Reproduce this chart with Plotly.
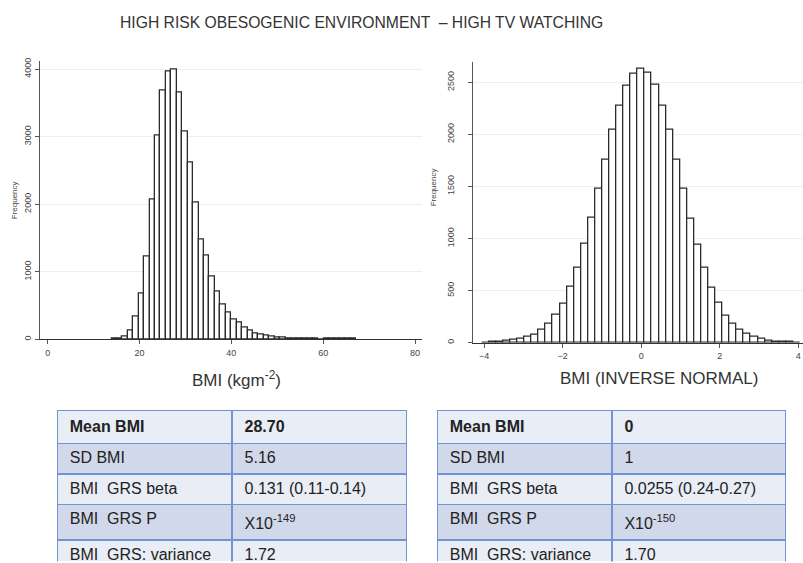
import plotly.graph_objects as go

W, H = 803, 563

# ---------------- data ----------------
bmi_bin_start = 13.9
bmi_bin_width = 1.185
bmi_counts = [5, 15, 45, 136, 332, 684, 1222, 2063, 3016, 3682, 3961, 4000, 3657,
              3070, 2611, 2029, 1481, 1236, 935, 706, 518, 400, 290, 244, 175, 132,
              92, 70, 55, 42, 30, 22, 18, 15, 13, 11, 10, 8, 4, 8, 9, 8, 7, 6, 6]

inv_bin_start = -4.05
inv_bin_width = 0.18
inv_counts = [3, 5, 8, 14, 23, 38, 54, 80, 121, 181, 264, 378, 533, 720, 946, 1196,
              1475, 1758, 2043, 2275, 2469, 2586, 2627, 2590, 2472, 2278, 2040, 1760,
              1478, 1193, 944, 722, 530, 380, 262, 180, 120, 82, 55, 37, 22, 13, 8, 5, 3]

left_xticks = [0, 20, 40, 60, 80]
left_yticks = [0, 1000, 2000, 3000, 4000]
right_xticks = [-4, -2, 0, 2, 4]
right_yticks = [0, 500, 1000, 1500, 2000, 2500]

row_labels = ["SD BMI", "BMI  GRS beta", "BMI  GRS P", "BMI  GRS: variance"]
header_label = "<b>Mean BMI</b>"
left_header_value = "<b>28.70</b>"
left_values = ["5.16", "0.131 (0.11-0.14)", "X10<sup>-149</sup>", "1.72"]
right_header_value = "<b>0</b>"
right_values = ["1", "0.0255 (0.24-0.27)", "X10<sup>-150</sup>", "1.70"]

title_text = "HIGH RISK OBESOGENIC ENVIRONMENT  \u2013 HIGH TV WATCHING"
left_xtitle = "BMI (kgm<sup>-2</sup>)"
right_xtitle = "BMI (INVERSE NORMAL)"
ytitle = "Frequency"

FONT = "Liberation Sans, Arial, sans-serif"
PAD = "\u00a0"

def px_x(p):
    return p / W

def px_y(p):
    return 1 - p / H

def centers(start, width, n):
    return [start + width * (i + 0.5) for i in range(n)]

fig = go.Figure()

bar_style = dict(marker=dict(color="white", line=dict(color="#2b2b2b", width=1.3)),
                 showlegend=False, hoverinfo="x+y")

fig.add_trace(go.Bar(x=centers(bmi_bin_start, bmi_bin_width, len(bmi_counts)),
                     y=bmi_counts, width=bmi_bin_width, xaxis="x", yaxis="y", **bar_style))
fig.add_trace(go.Bar(x=centers(inv_bin_start, inv_bin_width, len(inv_counts)),
                     y=inv_counts, width=inv_bin_width, xaxis="x2", yaxis="y2", **bar_style))

# ---------------- tables ----------------
row_fills = ["#d0d8e9", "#e9edf5", "#d0d8e9", "#e9edf5"]
line_col = "#6f96d2"
cell_font = dict(family=FONT, size=16, color="#222222")

def add_table(x0, x1, col1w, header_val, vals):
    fig.add_trace(go.Table(
        domain=dict(x=[px_x(x0), px_x(x1)], y=[0, px_y(410)]),
        columnwidth=[col1w, (x1 - x0) - col1w],
        header=dict(values=[PAD + header_label, PAD + header_val],
                    fill_color="#e9edf5", line=dict(color=line_col, width=1.5),
                    align="left", font=cell_font, height=31.5),
        cells=dict(values=[[PAD + v for v in row_labels], [PAD + v for v in vals]],
                   fill_color=[row_fills, row_fills], line=dict(color=line_col, width=1.5),
                   align="left", font=cell_font, height=30.5),
    ))

add_table(57.3, 406.7, 175, left_header_value, left_values)
add_table(437.3, 786, 175, right_header_value, right_values)

# ---------------- axes ----------------
tickfont = dict(family=FONT, size=9, color="#444444")
common_x = dict(showline=True, linecolor="#333333", linewidth=1, ticks="outside",
                ticklen=4, tickcolor="#555555", showgrid=False, zeroline=False,
                tickfont=tickfont, fixedrange=True, ticklabelstandoff=1)
common_y = dict(showline=True, linecolor="#555555", linewidth=1, ticks="outside",
                ticklen=4, tickcolor="#555555", showgrid=True, gridcolor="#eaf0f0",
                gridwidth=1, zeroline=False, tickangle=-90, tickfont=tickfont,
                fixedrange=True)

l_scale = (415 - 47.7) / 80.0
r_scale = (798.3 - 484.0) / 8.0

fig.update_layout(
    width=W, height=H, margin=dict(l=0, r=0, t=0, b=0),
    paper_bgcolor="white", plot_bgcolor="white", bargap=0,
    font=dict(family=FONT, color="#333333"),
    xaxis=dict(domain=[px_x(40), px_x(422)],
               range=[-(47.7 - 40) / l_scale, (422 - 47.7) / l_scale],
               tickvals=left_xticks, anchor="y", **common_x),
    yaxis=dict(domain=[px_y(338.3), px_y(58)],
               range=[0, 4000 + (65.7 - 58) * 4000 / (338.3 - 65.7)],
               tickvals=left_yticks, anchor="x", ticklabelstandoff=0, **common_y),
    xaxis2=dict(domain=[px_x(473.3), 1.0],
                range=[-4 - (484 - 473.3) / r_scale, 4 + (803 - 798.3) / r_scale],
                tickvals=right_xticks, anchor="y2", **common_x),
    yaxis2=dict(domain=[px_y(341.7), px_y(58.3)],
                range=[0, 2500 + (79 - 58.3) * 2500 / (341.7 - 79)],
                tickvals=right_yticks, anchor="x2", ticklabelstandoff=11, **common_y),
)

def ann(text, x, y, size, color="#333333", angle=0):
    fig.add_annotation(text=text, x=px_x(x), y=px_y(y), xref="paper", yref="paper",
                       showarrow=False, xanchor="center", yanchor="middle", textangle=angle,
                       font=dict(family=FONT, size=size, color=color))

ann(title_text, 361, 19, 15.7)
ann(left_xtitle, 236, 378, 17)
ann(right_xtitle, 659, 378, 17)
ann(ytitle, 14, 198, 8, "#444444", -90)
ann(ytitle, 433, 185, 8, "#444444", -90)

fig.write_html("out.html", config={"displayModeBar": False},
               post_script="document.body.style.margin='0px';"
               "document.body.style.overflow='hidden';")
